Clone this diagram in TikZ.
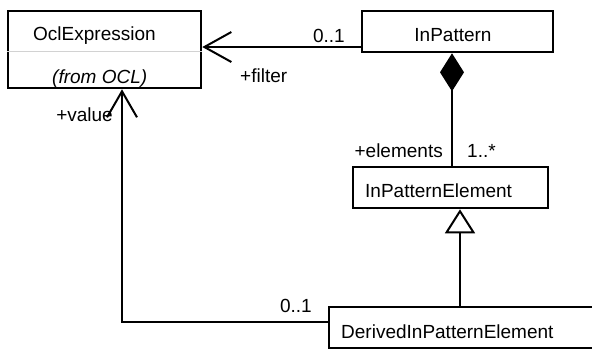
\documentclass[tikz,border=0pt]{standalone}
\usepackage{fontspec}
\setmainfont{Liberation Sans}
\usetikzlibrary{arrows.meta}
\begin{document}
\begin{tikzpicture}[x=1pt,y=-1pt,line join=miter,
  cls/.style={draw,line width=2.3pt,anchor=north west,inner sep=0pt},
  lbl/.style={font=\fontsize{19}{22}\selectfont,inner sep=0pt},
  conn/.style={line width=2pt}]
  \clip (0,0) rectangle (592,349);
  \coordinate (sy) at (0,51);
  \coordinate (fy) at (0,47);
  \coordinate (cx) at (452,0);
  \coordinate (gx) at (460,0);
  \coordinate (vx) at (122,0);
  \coordinate (vy) at (0,322);
  \node[cls,minimum width=193pt,minimum height=77pt] (ocl) at (7,10) {};
  \node[cls,minimum width=191pt,minimum height=41pt] (inp) at (361,10) {};
  \node[cls,minimum width=195pt,minimum height=41pt] (ipe) at (352,166) {};
  \node[cls,minimum width=272pt,minimum height=41pt] (dipe) at (328,306) {};
  \draw[gray!35,line width=0.8pt] (ocl.west |- sy) -- (ocl.east |- sy);
  \node[lbl,anchor=base west] (oclname) at (33,40) {OclExpression};
  \node[lbl,anchor=base west,font=\fontsize{19}{22}\selectfont\itshape] (oclpkg) at (52,83) {(from OCL)};
  \node[lbl,anchor=base] (inpname) at (453,41) {InPattern};
  \node[lbl,anchor=base west] (ipename) at (365,197) {InPatternElement};
  \node[lbl,anchor=base west] (dipename) at (341,338) {DerivedInPatternElement};
  \draw[conn,-{Straight Barb[length=27pt,width=30pt]}] (inp.west |- fy) -- (ocl.east |- fy);
  \draw[conn,-{Diamond[length=38pt,width=24pt]}] (ipe.north -| cx) -- (inp.south -| cx);
  \draw[conn,-{Triangle[open,length=24pt,width=30pt]}] (dipe.north -| gx) -- (ipe.south -| gx);
  \draw[conn,-{Straight Barb[length=26pt,width=30pt]}] (dipe.west |- vy) -| (ocl.south -| vx);
  \node[lbl,anchor=base east] (filtmult) at (345,42) {0..1};
  \node[lbl,anchor=base west] (filtrole) at (240,82) {+filter};
  \node[lbl,anchor=base east] (valrole) at (113,121) {+value};
  \node[lbl,anchor=base east] (elemrole) at (443,157) {+elements};
  \node[lbl,anchor=base west] (elemmult) at (467,157) {1..*};
  \node[lbl,anchor=base east] (valmult) at (312,312) {0..1};
\end{tikzpicture}
\end{document}
